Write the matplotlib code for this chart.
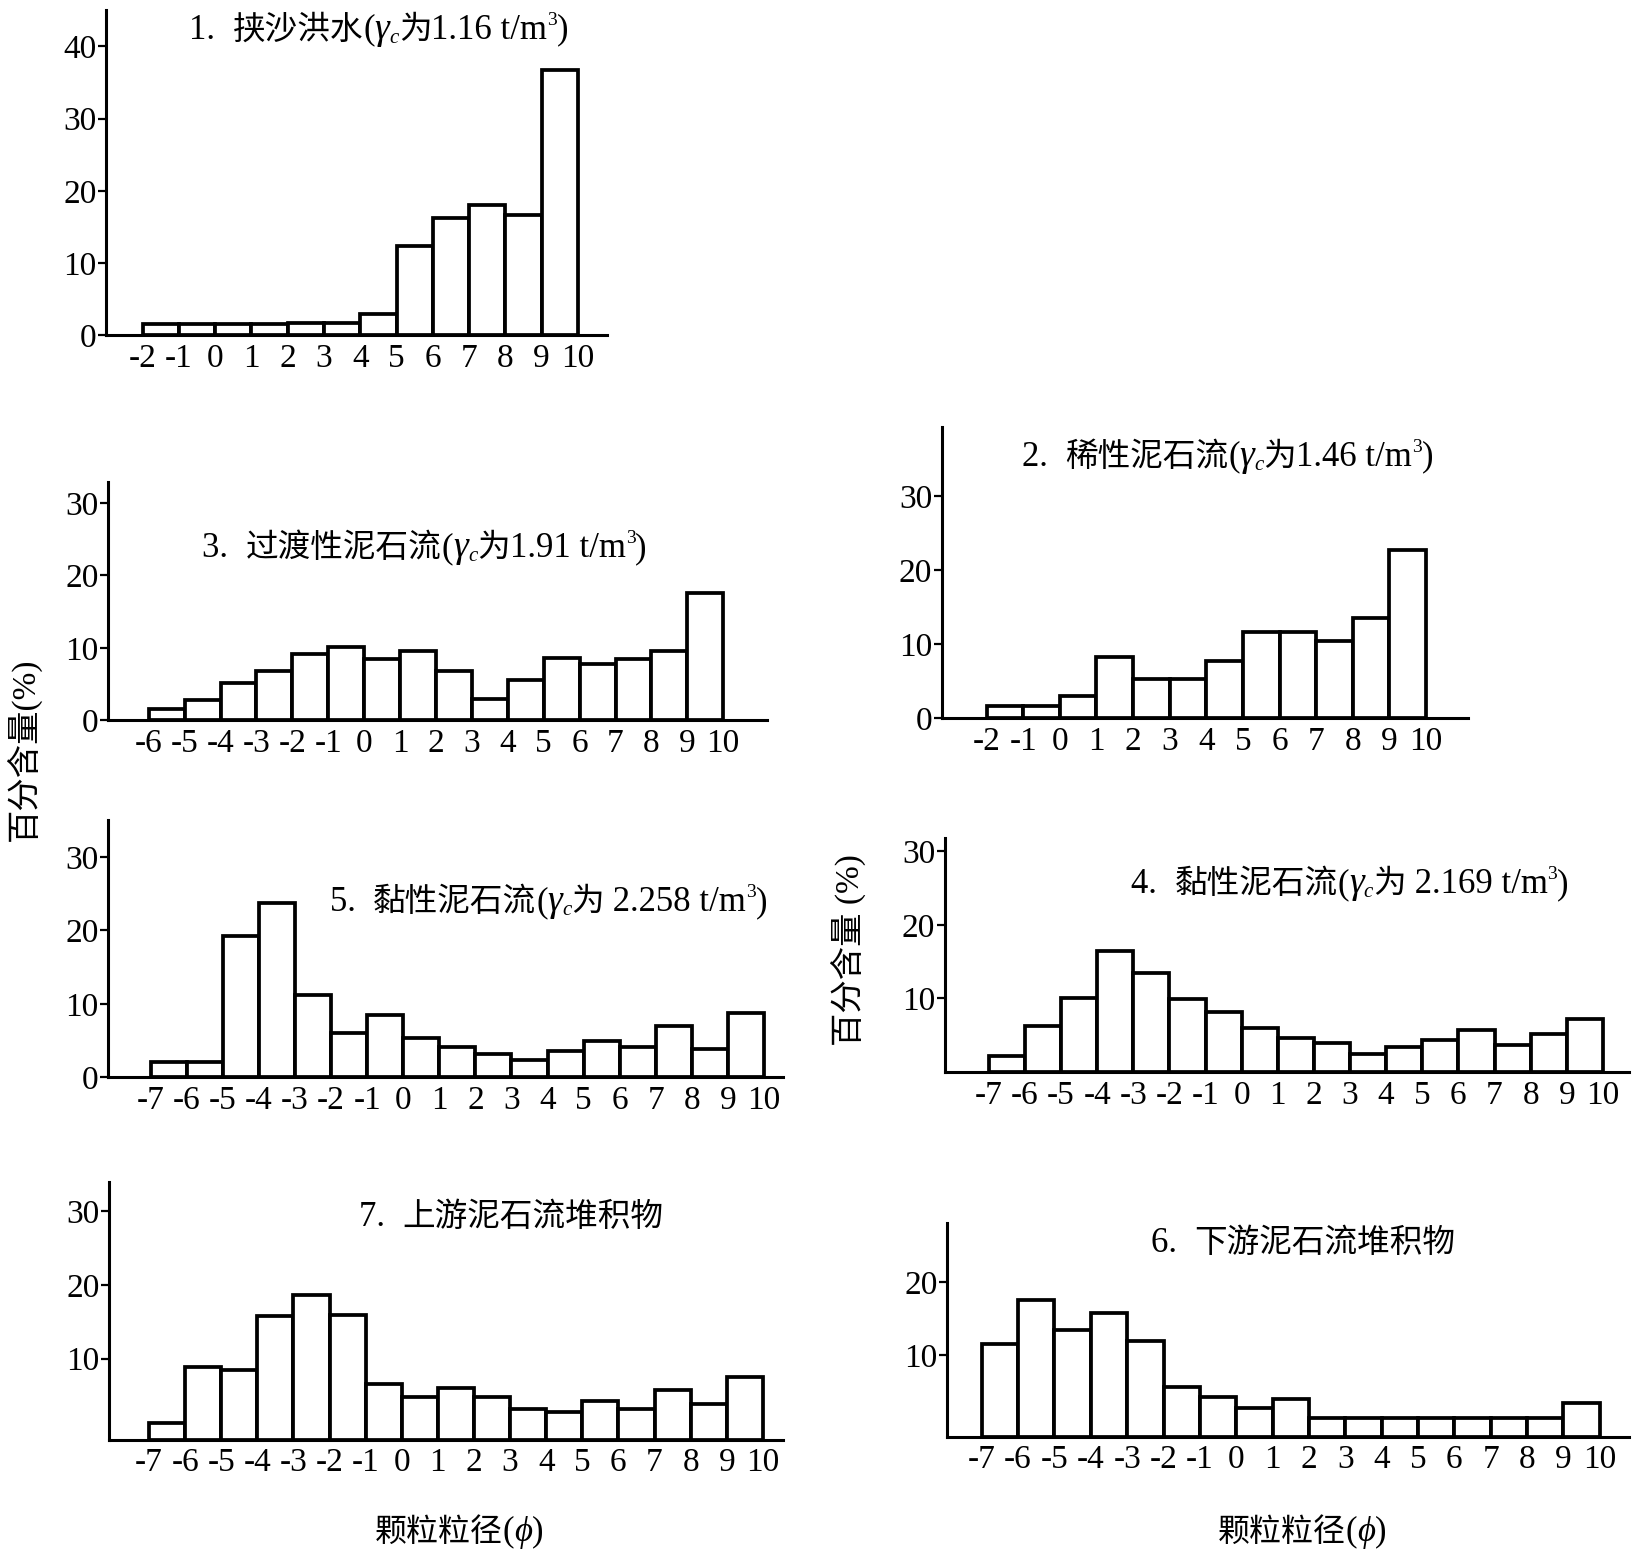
import numpy as np
import matplotlib
matplotlib.use("Agg")
import matplotlib.pyplot as plt

FAM = ['Liberation Serif', 'Noto Sans CJK SC']
plt.rcParams['font.family'] = FAM

# ---- data (percent per phi class) ----
p1_edges = list(range(-2, 11))
p1_vals = [1.5, 1.5, 1.5, 1.5, 1.7, 1.7, 2.9, 12.3, 16.3, 18.0, 16.6, 36.8]

p2_edges = list(range(-2, 11))
p2_vals = [1.7, 1.7, 3.0, 8.3, 5.3, 5.3, 7.8, 11.6, 11.6, 10.4, 13.6, 22.8]

p3_edges = list(range(-6, 11))
p3_vals = [1.5, 2.75, 5.2, 6.8, 9.2, 10.1, 8.5, 9.6, 6.8, 2.9, 5.6, 8.6, 7.8, 8.5, 9.5, 17.5]

p4_edges = list(range(-7, 11))
p4_vals = [2.2, 6.2, 10.1, 16.5, 13.5, 9.9, 8.1, 6.0, 4.7, 3.9, 2.4, 3.4, 4.3, 5.7, 3.7, 5.2, 7.2]

p5_edges = list(range(-7, 11))
p5_vals = [2.05, 2.05, 19.3, 23.8, 11.2, 6.0, 8.5, 5.3, 4.1, 3.2, 2.4, 3.6, 4.9, 4.2, 7.0, 3.8, 8.8]

p6_edges = list(range(-7, 11))
p6_vals = [11.6, 17.6, 13.4, 15.8, 12.0, 5.7, 4.3, 2.8, 3.95, 1.4, 1.4, 1.4, 1.4, 1.4, 1.4, 1.4, 3.4]

p7_edges = list(range(-7, 11))
p7_vals = [1.3, 8.9, 8.4, 15.7, 18.6, 15.9, 6.5, 4.8, 6.0, 4.8, 3.2, 2.7, 4.2, 3.1, 5.7, 3.9, 7.5]

# title pieces: (number, name, density)
titles = {
    1: ("1.", "挟沙洪水", "1.16 t/m"),
    2: ("2.", "稀性泥石流", "1.46 t/m"),
    3: ("3.", "过渡性泥石流", "1.91 t/m"),
    4: ("4.", "黏性泥石流", " 2.169 t/m"),
    5: ("5.", "黏性泥石流", " 2.258 t/m"),
    6: ("6.", "下游泥石流堆积物", None),
    7: ("7.", "上游泥石流堆积物", None),
}
ylabel = "百分含量"
xlabel = "颗粒粒径"

# ---- layout: rect, xlim, ylim, yticks, title anchor (fig fraction, baseline) ----
panels = [
    (1, p1_edges, p1_vals, [0.0651, 0.784, 0.3068, 0.2093], (-3.0, 10.8), (0, 45), [0, 10, 20, 30, 40], (0.116, 0.975)),
    (2, p2_edges, p2_vals, [0.5772, 0.5372, 0.3221, 0.1878], (-3.22, 11.14), (0, 39.4), [0, 10, 20, 30], (0.626, 0.700)),
    (3, p3_edges, p3_vals, [0.0663, 0.5359, 0.4037, 0.1536], (-7.13, 11.22), (0, 32.9), [0, 10, 20, 30], (0.124, 0.641)),
    (5, p5_edges, p5_vals, [0.0663, 0.3058, 0.4133, 0.1657], (-8.18, 10.52), (0, 35), [0, 10, 20, 30], (0.202, 0.413)),
    (4, p4_edges, p4_vals, [0.5791, 0.3092, 0.4190, 0.1509], (-8.21, 10.72), (0, 31.8), [10, 20, 30], (0.693, 0.4245)),
    (7, p7_edges, p7_vals, [0.0670, 0.0724, 0.4126, 0.1663], (-8.1, 10.55), (-1.0, 34), [10, 20, 30], (0.220, 0.210)),
    (6, p6_edges, p6_vals, [0.5804, 0.0744, 0.4177, 0.1375], (-7.95, 10.8), (-1.15, 28.1), [10, 20], (0.705, 0.193)),
]

LAT = 25     # latin text size in titles
CJK = 23.5   # chinese text size in titles


def rich_text(ax, x, y, parts):
    """Draw a run of text pieces side by side; x, y = figure fraction baseline."""
    prev = None
    for s, size, style, dy in parts:
        if prev is None:
            xy, coords = (x, y), 'figure fraction'
        else:
            xy, coords = (1, y), (prev, 'figure fraction')
        prev = ax.annotate(s, xy=xy, xycoords=coords, xytext=(0, dy),
                           textcoords='offset points', ha='left', va='baseline',
                           fontsize=size, fontstyle=style, family=FAM,
                           annotation_clip=False)
    return prev


fig = plt.figure(figsize=(16.32, 15.52), dpi=100)

for num, edges, vals, rect, xl, yl, yt, tpos in panels:
    ax = fig.add_axes(rect)
    ax.bar(edges[:-1], np.array(vals) - yl[0], width=1, align='edge', bottom=yl[0],
           facecolor='white', edgecolor='black', linewidth=2.7, zorder=3)
    ax.set_xlim(*xl)
    ax.set_ylim(*yl)
    ax.set_xticks(edges)
    ax.set_xticklabels([str(e) for e in edges])
    ax.set_yticks(yt)
    ax.tick_params(axis='x', length=0, pad=6, labelsize=24)
    ax.tick_params(axis='y', length=6, width=1.6, pad=1, labelsize=24, direction='out')
    for side in ['top', 'right']:
        ax.spines[side].set_visible(False)
    for side in ['left', 'bottom']:
        ax.spines[side].set_linewidth(2.2)
    ax.patch.set_alpha(0)

    n, name, dens = titles[num]
    if dens is None:
        rich_text(ax, tpos[0], tpos[1], [(n + "  ", LAT, 'normal', 0), (name, CJK, 'normal', 0)])
    else:
        rich_text(ax, tpos[0], tpos[1], [
            (n + "  ", LAT, 'normal', 0),
            (name, CJK, 'normal', 0),
            ("(", LAT, 'normal', 0),
            ("γ", LAT + 2, 'italic', 0),
            ("c", 15, 'italic', -3),
            ("为", CJK, 'normal', 0),
            (dens, LAT, 'normal', 0),
            ("3", 14, 'normal', 10),
            (")", LAT, 'normal', 0),
        ])

    xl_parts = [(xlabel, 23, 'normal', 0), ("(", 25, 'normal', 0),
                ("ϕ", 25, 'italic', 0), (")", 25, 'normal', 0)]
    if num == 7:
        rich_text(ax, 0.2296, 0.0074, xl_parts)
    if num == 6:
        rich_text(ax, 0.7462, 0.0074, xl_parts)

fig.text(0.014, 0.517, ylabel + "(%)", rotation=90, ha='center', va='center', fontsize=24)
fig.text(0.520, 0.388, ylabel + " (%)", rotation=90, ha='center', va='center', fontsize=24)

fig.savefig("out.png", dpi=100, facecolor='white')
